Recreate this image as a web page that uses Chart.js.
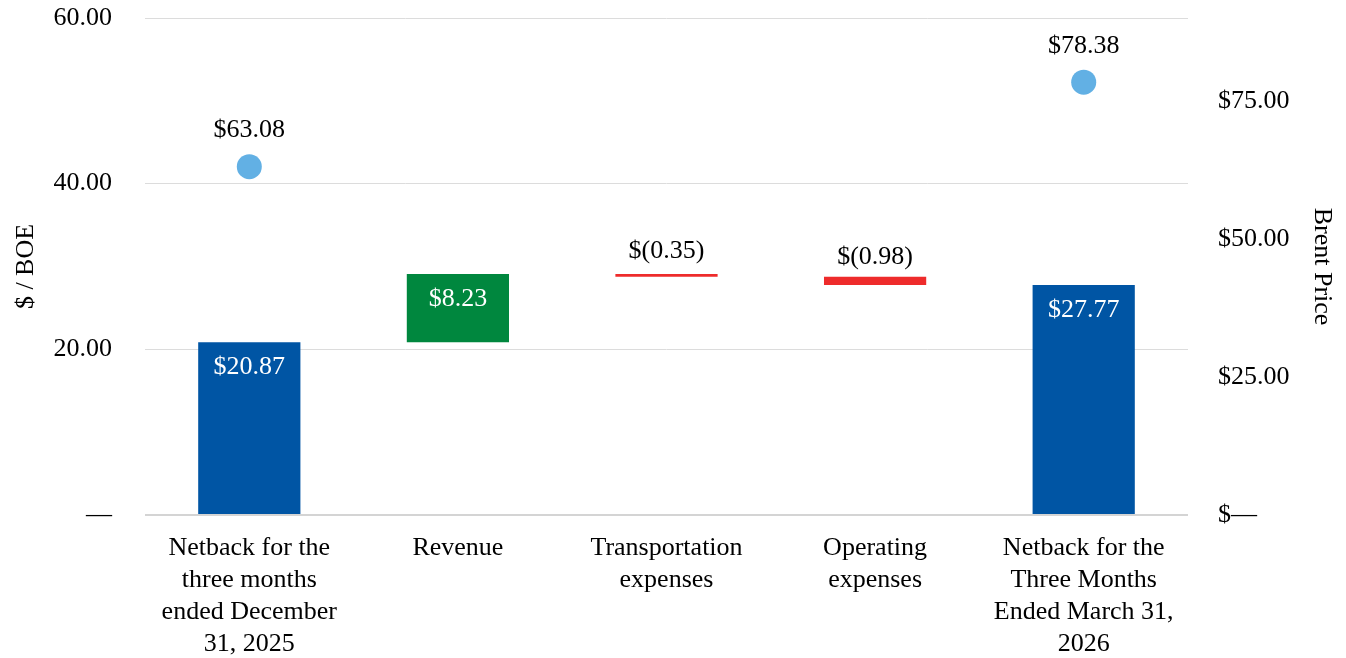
<!DOCTYPE html>
<html>
<head>
<meta charset="utf-8">
<script src="https://cdn.jsdelivr.net/npm/chart.js@4/dist/chart.umd.min.js"></script>
<style>
  html, body { margin:0; padding:0; background:#fff; }
  #wrap { width:1346px; height:658px; }
</style>
</head>
<body>
<div id="wrap"><canvas id="c" width="1346" height="658"></canvas></div>
<script>
// ---- data ----
const categories = [
  ["Netback for the", "three months", "ended December", "31, 2025"],
  "Revenue",
  ["Transportation", "expenses"],
  ["Operating", "expenses"],
  ["Netback for the", "Three Months", "Ended March 31,", "2026"]
];
const startNetback = 20.87;
const changes = [8.23, -0.35, -0.98];
const endNetback = 27.77;
const brentPrice = [63.08, null, null, null, 78.38];
const leftTicks = [0, 20, 40, 60];
const rightTicks = [0, 25, 50, 75];

// ---- build floating bars from the values ----
const bars = [[0, startNetback]];
const barValues = [startNetback];
let run = startNetback;
for (const c of changes) {
  const next = run + c;
  bars.push([Math.min(run, next), Math.max(run, next)]);
  barValues.push(c);
  run = next;
}
bars.push([0, endNetback]);
barValues.push(endNetback);

const BLUE = '#0055A4', GREEN = '#00873E', RED = '#EE2B2B', DOT = '#62B0E4';
const barColors = barValues.map((v, i) => (i === 0 || i === barValues.length - 1) ? BLUE : (v >= 0 ? GREEN : RED));

const FONT = { family: '"Liberation Serif", "Times New Roman", serif', size: 26, lineHeight: 1.23 };

function money(v) {
  const s = Math.abs(v).toFixed(2);
  return v < 0 ? '$(' + s + ')' : '$' + s;
}

const labelPlugin = {
  id: 'labels',
  afterDatasetsDraw(chart) {
    const ctx = chart.ctx;
    ctx.save();
    ctx.font = FONT.size + 'px ' + FONT.family;
    ctx.textAlign = 'center';
    ctx.textBaseline = 'middle';
    const bm = chart.getDatasetMeta(1);
    bm.data.forEach((el, i) => {
      const top = Math.min(el.y, el.base);
      const bot = Math.max(el.y, el.base);
      const isTotal = (i === 0 || i === bm.data.length - 1);
      const v = barValues[i];
      if (isTotal || v > 0) {
        ctx.fillStyle = '#ffffff';
        ctx.fillText(money(v), el.x, top + 25);
      } else {
        ctx.fillStyle = '#000000';
        ctx.fillText(money(v), el.x, (top + bot) / 2 - 24);
      }
    });
    const pm = chart.getDatasetMeta(0);
    pm.data.forEach((el, i) => {
      if (brentPrice[i] == null) return;
      ctx.fillStyle = '#000000';
      ctx.fillText(money(brentPrice[i]), el.x, el.y - 36);
    });
    ctx.restore();
  }
};

function noPad(s) { s.paddingTop = 0; s.paddingBottom = 0; }

new Chart(document.getElementById('c'), {
  type: 'bar',
  data: {
    labels: categories,
    datasets: [
      {
        type: 'line',
        data: brentPrice,
        yAxisID: 'y2',
        showLine: false,
        pointRadius: 12.5,
        pointHoverRadius: 12.5,
        pointBackgroundColor: DOT,
        pointBorderWidth: 0,
        order: 0
      },
      {
        type: 'bar',
        data: bars,
        yAxisID: 'y',
        backgroundColor: barColors,
        borderWidth: 0,
        barPercentage: 0.49,
        categoryPercentage: 1,
        order: 1
      }
    ]
  },
  options: {
    responsive: false,
    animation: false,
    layout: { padding: { top: 18, right: 4, bottom: 0, left: 0 } },
    plugins: { legend: { display: false }, tooltip: { enabled: false } },
    scales: {
      x: {
        grid: { display: false },
        border: { display: false },
        ticks: { font: FONT, color: '#000', padding: 9, maxRotation: 0, autoSkip: false },
        afterFit(s) { s.height = 143; }
      },
      y: {
        position: 'left',
        min: 0, max: 60,
        afterBuildTicks(s) { s.ticks = leftTicks.map(v => ({ value: v })); },
        ticks: {
          font: FONT, color: '#000', padding: 33,
          callback: v => v === 0 ? '—' : Number(v).toFixed(2)
        },
        grid: {
          drawTicks: false,
          color: ctx => ctx.tick && ctx.tick.value === 0 ? '#d4d4d4' : '#dcdcdc',
          lineWidth: ctx => ctx.tick && ctx.tick.value === 0 ? 2 : 1
        },
        border: { display: false },
        title: { display: true, text: '$ / BOE', font: FONT, color: '#000', padding: { top: 10, bottom: 0 } },
        afterFit(s) { s.width = 145; noPad(s); }
      },
      y2: {
        position: 'right',
        min: 0, max: 90,
        afterBuildTicks(s) { s.ticks = rightTicks.map(v => ({ value: v })); },
        ticks: {
          font: FONT, color: '#000', padding: 30,
          callback: v => v === 0 ? '$—' : '$' + Number(v).toFixed(2)
        },
        grid: { display: false, drawTicks: false },
        border: { display: false },
        title: { display: true, text: 'Brent Price', font: FONT, color: '#000', padding: { top: 4, bottom: 0 } },
        afterFit(s) { s.width = 154; noPad(s); }
      }
    }
  },
  plugins: [labelPlugin]
});
</script>
</body>
</html>
